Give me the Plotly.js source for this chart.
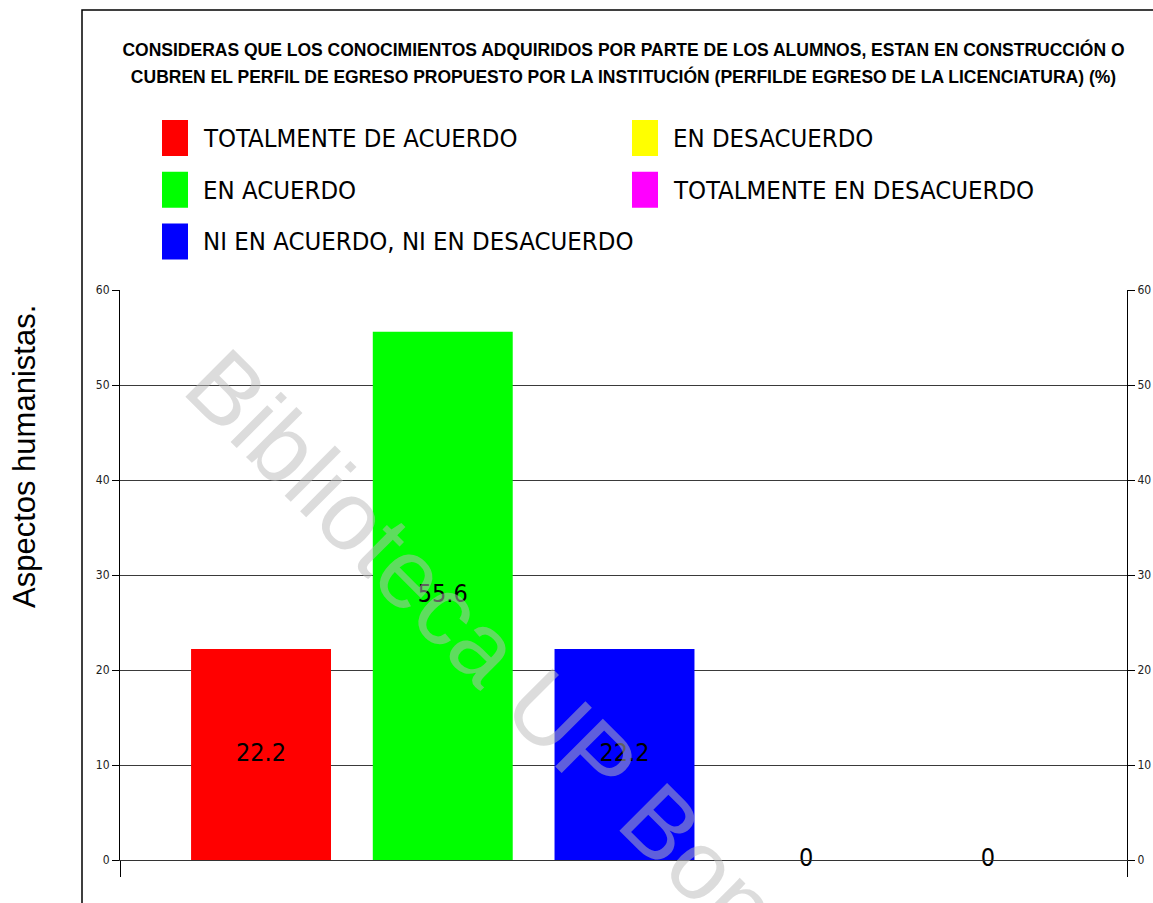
<!DOCTYPE html>
<html><head><meta charset="utf-8">
<script src="https://cdn.plot.ly/plotly-3.0.1.min.js"></script>
<style>html,body{margin:0;padding:0;background:#fff}</style>
</head><body><div id="chart" style="width:1153px;height:903px"></div>
<script>
const categories = ["TOTALMENTE DE ACUERDO", "EN ACUERDO", "NI EN ACUERDO, NI EN DESACUERDO", "EN DESACUERDO", "TOTALMENTE EN DESACUERDO"];
const values = [22.2, 55.6, 22.2, 0, 0];
const colors = ["#ff0000", "#00ff00", "#0000ff", "#ffff00", "#ff00ff"];
const yTicks = [0, 10, 20, 30, 40, 50, 60];
const titleLines = ["CONSIDERAS QUE LOS CONOCIMIENTOS ADQUIRIDOS POR PARTE DE LOS ALUMNOS, ESTAN EN CONSTRUCCIÓN O",
                    "CUBREN EL PERFIL DE EGRESO PROPUESTO POR LA INSTITUCIÓN (PERFILDE EGRESO DE LA LICENCIATURA) (%)"];
const yLabel = "Aspectos humanistas.";
const watermark = "Biblioteca UP Bonaterra";

// layout geometry (pixels)
const FW = 1153, FH = 903, ML = 120, MR = 26, MT = 290, MB = 43;
const PW = FW - ML - MR, PH = FH - MT - MB;
const X = px => (px - ML) / PW;
const Y = py => (FH - MB - py) / PH;

const NARROW = '"Liberation Sans Narrow", "Arial Narrow", "DejaVu Sans Condensed", sans-serif';
const SANS = '"Liberation Sans", Arial, sans-serif';

const bars = {
  type: 'bar', x: categories, y: values,
  marker: {color: colors, line: {width: 0}},
  width: 0.77, hoverinfo: 'x+y', showlegend: false
};
const labels = {
  type: 'scatter', mode: 'text', x: categories, y: values.map(v => v / 2),
  text: values.map(v => String(v)), textposition: 'middle center',
  textfont: {family: NARROW, size: 25, color: '#000'},
  yaxis: 'y2', cliponaxis: false, hoverinfo: 'skip', showlegend: false
};

const shapes = [{
  type: 'rect', xref: 'paper', yref: 'paper',
  x0: X(82), x1: X(1170), y0: Y(920), y1: Y(10),
  line: {color: '#000', width: 1.5}, fillcolor: 'rgba(0,0,0,0)'
}];
const annotations = [];
const legendCols = [162, 632];
categories.forEach((c, i) => {
  const col = i < 3 ? 0 : 1, row = i < 3 ? i : i - 3;
  const top = 120 + row * 51.7;
  shapes.push({type: 'rect', xref: 'paper', yref: 'paper',
    x0: X(legendCols[col]), x1: X(legendCols[col] + 26), y0: Y(top + 36), y1: Y(top),
    line: {width: 0}, fillcolor: colors[i]});
  annotations.push({xref: 'paper', yref: 'paper', x: X(legendCols[col] + 39), y: Y(top + 18),
    xanchor: 'left', yanchor: 'middle', showarrow: false, text: c,
    font: {family: NARROW, size: 25.5, color: '#000'}});
});
annotations.push({xref: 'paper', yref: 'paper', x: X(24), y: Y(457), textangle: -90,
  xanchor: 'center', yanchor: 'middle',
  showarrow: false, text: yLabel, font: {family: SANS, size: 31, color: '#000'}});
annotations.push({xref: 'paper', yref: 'paper', x: X(573), y: Y(736), textangle: 45,
  xanchor: 'center', yanchor: 'middle',
  showarrow: false, text: watermark, font: {family: SANS, size: 98, color: 'rgba(186,186,186,0.51)'}});

const yAxisBase = {
  range: [0, 60], tickmode: 'array', tickvals: yTicks, ticks: 'outside', ticklen: 7,
  tickcolor: '#000', tickwidth: 1, showline: true, linecolor: '#000', linewidth: 1,
  tickfont: {family: NARROW, size: 12, color: '#222'}, fixedrange: true, zeroline: false
};

const layout = {
  width: FW, height: FH, margin: {l: ML, r: MR, t: MT, b: MB},
  paper_bgcolor: '#fff', plot_bgcolor: '#fff', showlegend: false,
  title: {
    text: titleLines.map(t => '<span style="font-size:17.5px">' + t + '</span>').join('<br>'),
    font: {family: SANS, size: 21, weight: 'bold', color: '#000'},
    x: 0.5, xref: 'paper', xanchor: 'center', y: 1 - 56 / FH, yref: 'container', yanchor: 'top'
  },
  xaxis: {
    type: 'category', range: [-0.776, 4.765], showticklabels: false,
    tickmode: 'array', tickvals: [-0.776, 4.765], ticks: 'outside', ticklen: 16, tickcolor: '#000',
    showgrid: false, showline: true, linecolor: '#333', linewidth: 1, zeroline: false, fixedrange: true
  },
  yaxis: Object.assign({}, yAxisBase, {side: 'left', showgrid: true, gridcolor: '#3a3a3a', gridwidth: 1}),
  yaxis2: Object.assign({}, yAxisBase, {side: 'right', overlaying: 'y', showgrid: false}),
  shapes: shapes, annotations: annotations
};

Plotly.newPlot('chart', [bars, labels], layout, {displayModeBar: false, staticPlot: true});
</script></body></html>
